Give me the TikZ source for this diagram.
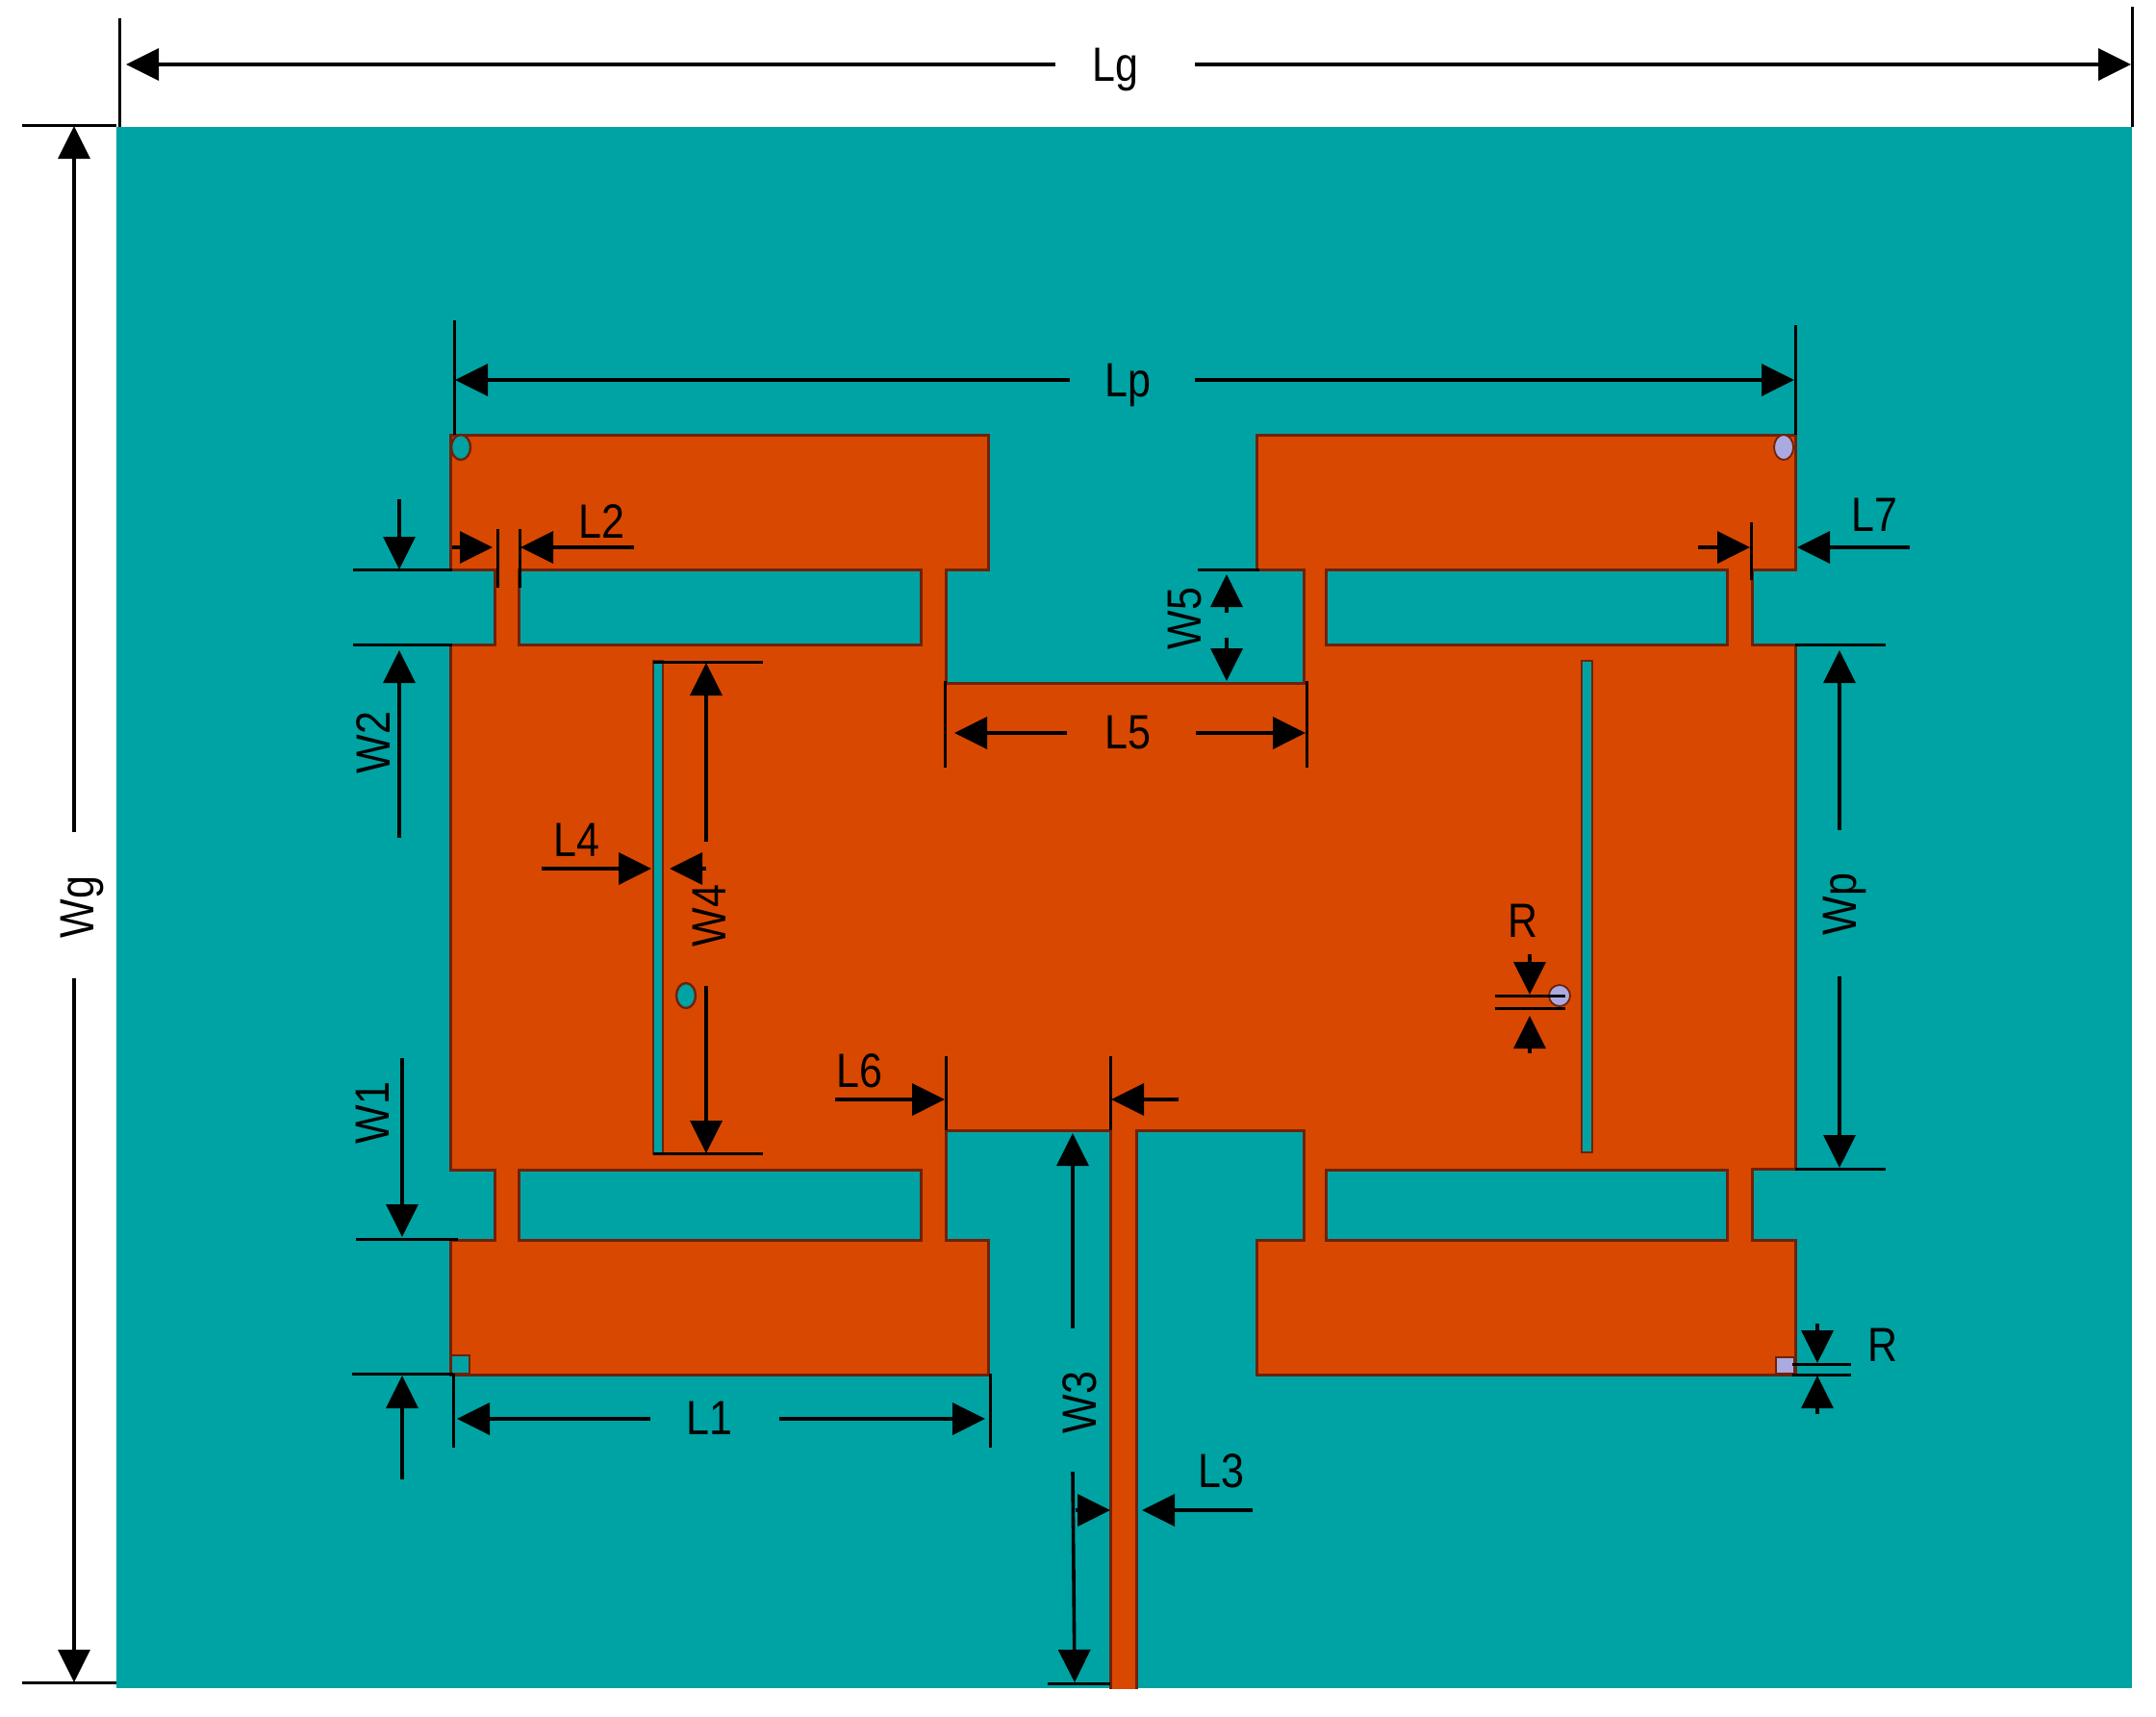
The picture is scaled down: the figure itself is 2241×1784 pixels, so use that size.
\documentclass[tikz,border=0pt]{standalone}
\usepackage{fontspec}
\setmainfont[FakeStretch=0.86]{Liberation Sans}
\usetikzlibrary{arrows.meta}
\definecolor{gnd}{RGB}{0,163,163}
\definecolor{cu}{RGB}{217,72,0}
\definecolor{cuedge}{RGB}{110,34,12}
\definecolor{via}{RGB}{170,170,225}
\tikzset{
  x=0.5pt,y=-0.5pt,
  patchshape/.style={fill=cu,draw=cuedge,line width=1.5pt,even odd rule,line join=miter},
  holeshape/.style={fill=gnd,draw=cuedge,line width=1.2pt},
  viashape/.style={fill=via,draw=cuedge,line width=0.9pt},
  tick/.style={draw=black,line width=1.5pt},
  dim/.style={draw=black,line width=1.8pt,-{Triangle[length=17pt,width=16.5pt]}},
  lab/.style={font=\fontsize{25}{28}\selectfont,text=black,inner sep=0pt},
  vlab/.style={lab,rotate=90},
}
\begin{document}
\begin{tikzpicture}
\useasboundingbox (0,0) rectangle (2241,1784);
\fill[white] (0,0) rectangle (2241,1784);
\fill[gnd] (121,132) rectangle (2216,1755);
% patch with slots, feed running off the ground edge
\begin{scope}
\clip (121,132) rectangle (2216,1755);
\path[patchshape]
 (468,452) -- (1027,452) -- (1027,592) -- (983,592) -- (983,710) -- (1355,710) -- (1355,592) -- (1306,592) -- (1306,452)
 -- (1866,452) -- (1866,592) -- (1821,592) -- (1821,670) -- (1866,670) -- (1866,1215) -- (1821,1215) -- (1821,1289) -- (1866,1289)
 -- (1866,1429) -- (1306,1429) -- (1306,1289) -- (1355,1289) -- (1355,1175) -- (1181,1175) -- (1181,1765) -- (1154,1765)
 -- (1154,1175) -- (983,1175) -- (983,1289) -- (1027,1289) -- (1027,1429) -- (468,1429) -- (468,1289) -- (514,1289)
 -- (514,1216) -- (468,1216) -- (468,670) -- (514,670) -- (514,592) -- (468,592) -- cycle
 (539,592) rectangle (957,670)
 (1378,592) rectangle (1795,670)
 (539,1216) rectangle (957,1289)
 (1378,1216) rectangle (1795,1289);
\end{scope}
% slits
\path[holeshape] (679,687) rectangle (689,1199);
\path[holeshape] (1644,687) rectangle (1655,1198);
% vias
\path[holeshape] (479,465) ellipse [x radius=10,y radius=13];
\path[holeshape] (713,1035) ellipse [x radius=10,y radius=13];
\path[holeshape] (469,1409) rectangle (488,1428);
\path[viashape] (1854,465) ellipse [x radius=10,y radius=13];
\path[viashape] (1621,1035) circle [radius=11];
\path[viashape] (1846,1411) rectangle (1865,1428);
% Lg
\draw[tick] (124,19) -- (124,132);
\draw[tick] (2216,7) -- (2216,132);
\node[lab] (lg) at (1159,72) {Lg};
\draw[dim] (1097,67) -- (131,67);
\draw[dim] (1242,67) -- (2215,67);
% Wg
\draw[tick] (23,130) -- (121,130);
\draw[tick] (23,1749) -- (121,1749);
\node[vlab] (wg) at (85,943) {Wg};
\draw[dim] (77,865) -- (77,131);
\draw[dim] (77,1017) -- (77,1749);
% Lp
\draw[tick] (472,333) -- (472,452);
\draw[tick] (1866,338) -- (1866,452);
\node[lab] (lp) at (1172,400) {Lp};
\draw[dim] (1112,395) -- (473,395);
\draw[dim] (1242,395) -- (1865,395);
% L2
\draw[tick] (517,550) -- (517,611);
\draw[tick] (540,550) -- (540,611);
\node[lab] (ltwo) at (625,542) {L2};
\draw[dim] (470,569) -- (512,569);
\draw[dim] (659,569) -- (541,569);
% W2
\draw[tick] (367,592.5) -- (470,592.5);
\draw[tick] (367,670) -- (470,670);
\node[vlab] (wtwo) at (388,772) {W2};
\draw[dim] (415,519) -- (415,592);
\draw[dim] (415,871) -- (415,676);
% W4
\draw[tick] (679,688) -- (793,688);
\draw[tick] (679,1199) -- (793,1199);
\node[vlab] (wfour) at (737,952) {W4};
\draw[dim] (734,875) -- (734,689);
\draw[dim] (734,1025) -- (734,1199);
% L4
\node[lab] (lfour) at (599,873) {L4};
\draw[dim] (563,903) -- (677,903);
\draw[dim] (734,903) -- (696,903);
% L5
\draw[tick] (982,708) -- (982,798);
\draw[tick] (1358,708) -- (1358,798);
\node[lab] (lfive) at (1172,762) {L5};
\draw[dim] (1109,762) -- (992,762);
\draw[dim] (1243,762) -- (1357,762);
% W5
\draw[tick] (1245,592) -- (1309,592);
\node[vlab] (wfive) at (1232,643) {W5};
\draw[dim] (1275,637) -- (1275,597);
\draw[dim] (1275,663) -- (1275,708);
% L7
\draw[tick] (1820,543) -- (1820,603);
\node[lab] (lseven) at (1948,535) {L7};
\draw[dim] (1765,569) -- (1819,569);
\draw[dim] (1985,569) -- (1868,569);
% Wp
\draw[tick] (1866,670.5) -- (1960,670.5);
\draw[tick] (1866,1215) -- (1960,1215);
\node[vlab] (wp) at (1917,940) {Wp};
\draw[dim] (1912,863) -- (1912,676);
\draw[dim] (1912,1015) -- (1912,1214);
% R inner
\draw[tick] (1554,1035) -- (1627,1035);
\draw[tick] (1554,1048) -- (1627,1048);
\node[lab] (rone) at (1583,957) {R};
\draw[dim] (1590,992) -- (1590,1034);
\draw[dim] (1590,1095) -- (1590,1056);
% R outer
\draw[tick] (1863,1418) -- (1924,1418);
\draw[tick] (1863,1429) -- (1924,1429);
\node[lab] (rtwo) at (1957,1398) {R};
\draw[dim] (1889,1376) -- (1889,1417);
\draw[dim] (1889,1470) -- (1889,1430);
% W1
\draw[tick] (370,1288) -- (476,1288);
\draw[tick] (366,1428) -- (471,1428);
\node[vlab] (wone) at (387,1157) {W1};
\draw[dim] (418,1100) -- (418,1286);
\draw[dim] (418,1538) -- (418,1430);
% L1
\draw[tick] (471,1428) -- (471,1505);
\draw[tick] (1029,1428) -- (1029,1505);
\node[lab] (lone) at (737,1474) {L1};
\draw[dim] (676,1475) -- (475,1475);
\draw[dim] (810,1475) -- (1024,1475);
% L6
\draw[tick] (983,1098) -- (983,1175);
\draw[tick] (1154,1098) -- (1154,1175);
\node[lab] (lsix) at (893,1113) {L6};
\draw[dim] (868,1143) -- (982,1143);
\draw[dim] (1225,1143) -- (1155,1143);
% W3
\draw[tick] (1089,1750) -- (1154,1750);
\node[vlab] (wthree) at (1122,1458) {W3};
\draw[dim] (1115,1381) -- (1115,1178);
\draw[dim] (1115,1530) -- (1117,1749);
% L3
\node[lab] (lthree) at (1269,1529) {L3};
\draw[dim] (1118,1570) -- (1154,1570);
\draw[dim] (1302,1570) -- (1187,1570);
\end{tikzpicture}
\end{document}
